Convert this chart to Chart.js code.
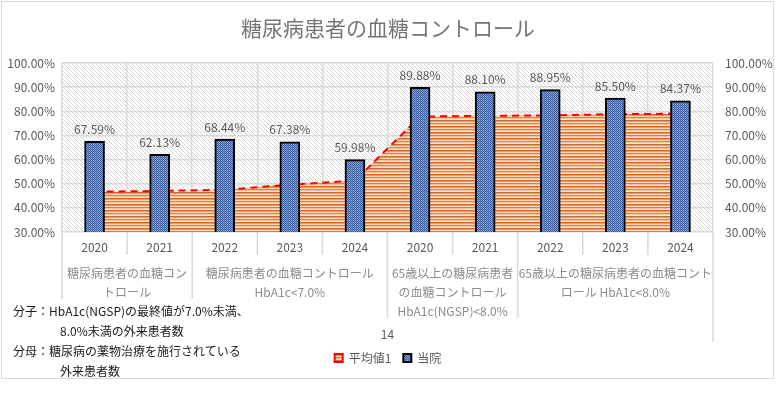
<!DOCTYPE html>
<html lang="ja">
<head>
<meta charset="utf-8">
<title>糖尿病患者の血糖コントロール</title>
<script src="https://cdn.jsdelivr.net/npm/chart.js@4"></script>
<style>
    body {
        margin: 0;
        background: #fff;
    }

    #wrap {
        position: relative;
        width: 776px;
        height: 393px;
    }

    #nota {
        position: absolute;
        left: 4px;
        top: 299px;
        width: 250px;
        height: 77px;
        padding: 2px 0 0 9px;
        box-sizing: border-box;
        background: #fff;
        font-family: "Noto Sans CJK JP", "Noto Sans", sans-serif;
        font-size: 12px;
        line-height: 20px;
        color: #1a1a1a;
        white-space: nowrap;
    }

    #nota .recuo {
        padding-left: 47px;
    }
</style>
</head>
<body>
<div id="wrap">
    <canvas id="grafico"></canvas>
    <div id="nota">
        <div>分子：HbA1c(NGSP)の最終値が7.0%未満、</div>
        <div class="recuo">8.0%未満の外来患者数</div>
        <div>分母：糖尿病の薬物治療を施行されている</div>
        <div class="recuo">外来患者数</div>
    </div>
</div>
<script>
// grafico: 糖尿病患者の血糖コントロール

const tituloGrafico =
    "糖尿病患者の血糖コントロール";

const anos = [
    "2020", "2021", "2022", "2023", "2024",
    "2020", "2021", "2022", "2023", "2024"
];

// 当院
const valoresHospital = [
    67.59, 62.13, 68.44, 67.38, 59.98,
    89.88, 88.10, 88.95, 85.50, 84.37
];

// 平均値1 (aproximado)
const valoresMedia = [
    46.7, 47.0, 47.5, 49.6, 51.3,
    77.8, 78.1, 78.3, 78.8, 79.0
];

const rotulosGrupos = [
    ["糖尿病患者の血糖コン", "トロール"],
    ["糖尿病患者の血糖コントロール", "HbA1c<7.0%"],
    ["65歳以上の糖尿病患者", "の血糖コントロール", "HbA1c(NGSP)<8.0%"],
    ["65歳以上の糖尿病患者の血糖コント", "ロール HbA1c<8.0%"]
];

// indices de categoria (inicio, fim) de cada grupo
const faixasGrupos = [
    [0, 1],
    [2, 4],
    [5, 6],
    [7, 9]
];

const eixoMin = 30;
const eixoMax = 100;
const eixoPasso = 10;

const rotuloExtra = "14";

const fonte =
    '"Noto Sans CJK JP", "Noto Sans", sans-serif';

const corTexto = "#595959";
const corGrade = "#D9D9D9";

function criarPadrao(largura, altura, desenhar) {

    const c =
        document.createElement("canvas");

    c.width = largura;
    c.height = altura;

    const g = c.getContext("2d");

    desenhar(g);

    return g.createPattern(c, "repeat");
}

const padraoHachura =
    criarPadrao(8, 8, g => {

        g.fillStyle = "#ffffff";
        g.fillRect(0, 0, 8, 8);

        g.strokeStyle = "#D6D6D6";
        g.lineWidth = 1;

        [-8, -4, 0, 4, 8].forEach(k => {
            g.beginPath();
            g.moveTo(0, k);
            g.lineTo(8, 8 + k);
            g.stroke();
        });
    });

const padraoListras =
    criarPadrao(4, 6, g => {

        const cores = [
            "#D2692A",
            "#EE9A62",
            "#FBD5BA",
            "#E2803F",
            "#F7C4A0",
            "#FDE3D0"
        ];

        cores.forEach((cor, i) => {
            g.fillStyle = cor;
            g.fillRect(0, i, 4, 1);
        });
    });

const padraoBarras =
    criarPadrao(2, 2, g => {

        g.fillStyle = "#3A5DA0";
        g.fillRect(0, 0, 1, 1);
        g.fillRect(1, 1, 1, 1);

        g.fillStyle = "#93ADDD";
        g.fillRect(1, 0, 1, 1);

        g.fillStyle = "#7290CC";
        g.fillRect(0, 1, 1, 1);
    });

const fundoPlugin = {

    id: "fundo",

    beforeDraw(chart) {

        const { ctx, chartArea: a, width, height } = chart;

        ctx.save();

        ctx.fillStyle = "#ffffff";
        ctx.fillRect(0, 0, width, height);

        ctx.strokeStyle = corGrade;
        ctx.lineWidth = 1;
        ctx.strokeRect(1.5, 1.5, 772, 377);

        ctx.fillStyle = padraoHachura;
        ctx.fillRect(
            a.left,
            a.top,
            a.right - a.left,
            a.bottom - a.top
        );

        ctx.restore();
    }
};

const rotulosDadosPlugin = {

    id: "rotulosDados",

    afterDatasetsDraw(chart) {

        const { ctx } = chart;

        const meta = chart.getDatasetMeta(0);

        ctx.save();

        ctx.font = "12px " + fonte;
        ctx.fillStyle = corTexto;
        ctx.textAlign = "center";
        ctx.textBaseline = "middle";

        meta.data.forEach((barra, i) => {

            ctx.fillText(
                valoresHospital[i].toFixed(2) + "%",
                barra.x,
                barra.y - 12
            );
        });

        ctx.restore();
    }
};

const eixoGruposPlugin = {

    id: "eixoGrupos",

    afterDraw(chart) {

        const { ctx, chartArea: a } = chart;

        const largCat =
            (a.right - a.left) / anos.length;

        const inicios =
            faixasGrupos.map(f => f[0]);

        ctx.save();

        ctx.strokeStyle = corGrade;
        ctx.lineWidth = 1.5;

        for (let i = 0; i <= anos.length; i++) {

            const x = a.left + i * largCat;

            let comprimento = 23;

            if (inicios.includes(i))
                comprimento = 86;

            if (i === anos.length)
                comprimento = 110;

            ctx.beginPath();
            ctx.moveTo(x, a.bottom);
            ctx.lineTo(x, a.bottom + comprimento);
            ctx.stroke();
        }

        ctx.font = "12px " + fonte;
        ctx.fillStyle = "#8C8C8C";
        ctx.textAlign = "center";
        ctx.textBaseline = "middle";

        faixasGrupos.forEach((faixa, g) => {

            const centro =
                a.left +
                ((faixa[0] + faixa[1] + 1) / 2) * largCat;

            rotulosGrupos[g].forEach((linha, j) => {

                ctx.fillText(
                    linha,
                    centro,
                    a.bottom + 41 + j * 19
                );
            });
        });

        ctx.fillStyle = corTexto;

        ctx.fillText(
            rotuloExtra,
            (a.left + a.right) / 2,
            a.bottom + 102
        );

        ctx.restore();
    }
};

const formatarPct = v =>
    Number(v).toFixed(2) + "%";

const grafico = new Chart(
    document.getElementById("grafico"),
    {
        type: "bar",

        data: {

            labels: anos,

            datasets: [
                {
                    label: "当院",

                    data: valoresHospital,

                    backgroundColor: padraoBarras,

                    borderColor: "#000000",

                    borderWidth: 2,

                    borderSkipped: false,

                    barThickness: 20,

                    yAxisID: "y",

                    order: 0
                },
                {
                    type: "line",

                    label: "平均値1",

                    data: valoresMedia,

                    backgroundColor: padraoListras,

                    borderColor: "#FF0000",

                    borderWidth: 2,

                    borderDash: [7, 5],

                    fill: "start",

                    tension: 0,

                    pointRadius: 0,

                    yAxisID: "y",

                    order: 1
                }
            ]
        },

        options: {

            responsive: true,

            maintainAspectRatio: false,

            animation: false,

            layout: {

                padding: {
                    top: 0,
                    left: 0,
                    right: 0,
                    bottom: 19
                }
            },

            plugins: {

                title: {

                    display: true,

                    text: tituloGrafico,

                    color: "#767676",

                    font: {
                        family: fonte,
                        size: 21,
                        weight: "normal"
                    },

                    padding: {
                        top: 15,
                        bottom: 22.8
                    }
                },

                legend: {

                    position: "bottom",

                    labels: {

                        color: corTexto,

                        boxWidth: 8,

                        boxHeight: 8,

                        padding: 12,

                        font: {
                            family: fonte,
                            size: 12
                        },

                        generateLabels: chart =>
                            Chart.defaults.plugins.legend.labels
                                .generateLabels(chart)
                                .map(item => {
                                    item.lineDash = [];
                                    item.lineWidth = 2;
                                    return item;
                                }),

                        sort: (a, b) =>
                            b.datasetIndex - a.datasetIndex
                    }
                },

                tooltip: {
                    enabled: false
                }
            },

            scales: {

                x: {

                    offset: true,

                    grid: {

                        offset: true,

                        color: corGrade,

                        lineWidth: 1.5,

                        drawTicks: false
                    },

                    border: {
                        display: false
                    },

                    ticks: {

                        color: corTexto,

                        padding: 8,

                        maxRotation: 0,

                        autoSkip: false,

                        font: {
                            family: fonte,
                            size: 12
                        }
                    },

                    afterFit: escala => {
                        escala.height = 108;
                    }
                },

                y: {

                    position: "left",

                    min: eixoMin,

                    max: eixoMax,

                    grid: {

                        color: corGrade,

                        lineWidth: 1.5,

                        drawTicks: false
                    },

                    border: {
                        display: false
                    },

                    ticks: {

                        stepSize: eixoPasso,

                        color: corTexto,

                        padding: 7,

                        font: {
                            family: fonte,
                            size: 12
                        },

                        callback: formatarPct
                    },

                    afterFit: escala => {
                        escala.width = 62;
                    }
                },

                y2: {

                    position: "right",

                    min: eixoMin,

                    max: eixoMax,

                    grid: {
                        display: false,
                        drawTicks: false
                    },

                    border: {
                        display: false
                    },

                    ticks: {

                        stepSize: eixoPasso,

                        color: corTexto,

                        padding: 12,

                        font: {
                            family: fonte,
                            size: 12
                        },

                        callback: formatarPct
                    },

                    afterFit: escala => {
                        escala.width = 63;
                    }
                }
            }
        },

        plugins: [
            fundoPlugin,
            rotulosDadosPlugin,
            eixoGruposPlugin
        ]
    }
);
</script>
</body>
</html>
